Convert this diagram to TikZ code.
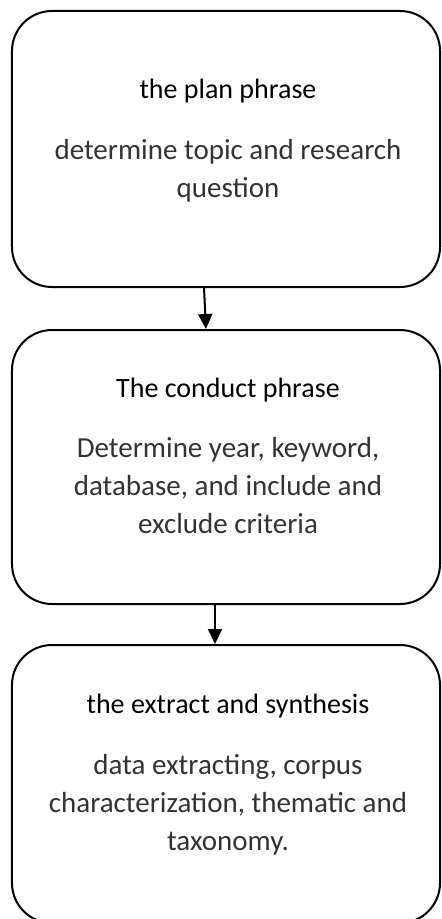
\documentclass[tikz,border=0pt]{standalone}
\usepackage{fontspec}
\setmainfont{Carlito}
\usetikzlibrary{arrows.meta}
\tikzset{
  phase/.style={draw, line width=2bp, rounded corners=40bp, minimum width=428bp},
  phasetitle/.style={anchor=base, font=\fontsize{28bp}{32bp}\selectfont},
  phasetext/.style={anchor=base, align=center, text=black!80,
    font=\fontsize{29bp}{38bp}\selectfont},
  flow/.style={line width=2bp, -{Triangle[width=14bp,length=15bp]}}
}
\begin{document}
\begin{tikzpicture}[x=1bp,y=-1bp]
  \useasboundingbox (0,0) rectangle (442,919);

  % Boxes
  \node[phase, minimum height=276bp] (plan) at (226,149) {};
  \node[phase, minimum height=274bp] (conduct) at (226,467) {};
  \node[phase, minimum height=278bp] (extract) at (226,784) {};

  % Titles
  \node[phasetitle] (plantitle) at (228,98) {the plan phrase};
  \node[phasetitle] (conducttitle) at (228,397) {The conduct phrase};
  \node[phasetitle] (extracttitle) at (228,713) {the extract and synthesis};

  % Descriptions (base = last line)
  \node[phasetext] (plantext) at (228,197) {determine topic and research\\question};
  \node[phasetext] (conducttext) at (228,533) {Determine year, keyword,\\database, and include and\\exclude criteria};
  \node[phasetext] (extracttext) at (228,850) {data extracting, corpus\\characterization, thematic and\\taxonomy.};

  % Arrows
  \draw[flow] ([xshift=-22bp]plan.south) -- ([xshift=-20bp]conduct.north);
  \draw[flow] ([xshift=-11bp]conduct.south) -- ([xshift=-11bp]extract.north);
\end{tikzpicture}
\end{document}
